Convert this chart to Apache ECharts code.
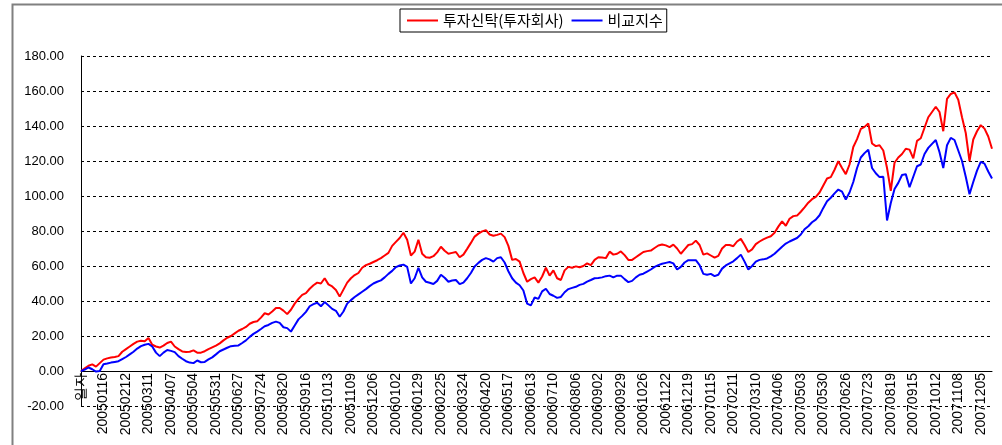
<!DOCTYPE html>
<html>
<head>
<meta charset="utf-8">
<script src="https://cdn.jsdelivr.net/npm/echarts@6/dist/echarts.min.js"></script>
<style>
html,body{margin:0;padding:0;background:#fff;}
#c{width:1002px;height:445px;}
</style>
</head>
<body>
<div id="c"></div>
<script>
// Tick labels of the category axis (one every 6 points)
const tickLabels = ['일자',
 '20050116','20050212','20050311','20050407','20050504','20050531','20050627','20050724','20050820','20050916','20051013','20051109','20051206',
 '20060102','20060129','20060225','20060324','20060420','20060517','20060613','20060710','20060806','20060902','20060929','20061026','20061122','20061219',
 '20070115','20070211','20070310','20070406','20070503','20070530','20070626','20070723','20070819','20070915','20071012','20071108','20071205'];
const pointsPerTick = 6;

const seriesNames = ['투자신탁(투자회사)', '비교지수'];

const fundValues = [
0,1.5,3,3.8,2.5,4.5,6.5,7.2,7.7,8,
8.5,11,12.5,14,15.5,16.8,17.3,17,18.8,15,
14,13.4,14.5,16,16.8,14,12.5,11.2,10.9,11,
11.8,10.5,10.5,11.3,12.5,13.5,14.5,15.8,17.5,19,
20,21.5,23,24,25.2,27,28,28.4,30.5,33,
32.3,34,36,36,34.5,32.5,35,38.5,41.2,43.5,
44.5,47,49,50.5,50,53,49.5,48.3,46.3,42.5,
46.5,50.5,53,54.8,56,59,60.5,61.3,62.3,63.3,
64.5,66,67.5,71.5,73.8,76,79,75,66,68.2,
75,67,65,64.7,65.6,67.8,71,68.7,67,67.5,
68,65,66.5,69.8,73.2,76.8,78.5,79.8,80.5,78,
77.3,77.8,78.5,76.5,71.5,63.5,64,62.5,56,51,
52.5,53.5,50.5,54,59,54.5,57.5,53,52,57.5,
59.5,59,59.8,59.3,60,61.5,60.5,63.5,65,64.8,
64.5,68.2,66.5,67,68.3,66.2,63.5,63.5,65,66.5,
68,68.5,68.8,70.3,71.7,72.3,71.8,70.8,72.2,70,
67,69.5,72,72.5,74.5,72,66.5,67.2,66,64.8,
65.8,70,72,72,71.3,74,75.5,72,68,69.5,
72.5,74,75.2,76.2,77,79,82.5,85.5,83,87,
88.5,88.8,91,93.5,96.2,98.2,99.5,102,106,110,
110.8,115,119.9,116,112.5,118,128,132.5,138.3,139.5,
141.5,130,128.5,129,126,116,103,119,122,124,
127,126.5,121.5,131.5,133,139,145,148,151,148,
137,155.5,158.3,159.2,155,145,136,120,132.3,137,
140.5,138.5,134,127
];

const indexValues = [
0,0.8,2,1,-0.3,0,3.9,4.3,4.8,5.2,
5.6,6.8,8,9.5,11,12.8,14.2,15,15.5,14,
10.5,8.5,10.5,12,11.5,10.8,8.5,7,5.6,4.8,
4.5,6,5,5.2,6.6,7.8,9.5,11.3,12.3,13.3,
14.2,14.4,14.6,16,17.5,19.5,21.2,22.5,24,25.6,
26.3,27.5,28.2,27.5,25,24.5,22.5,26,29.5,31.5,
33.8,37,38.2,39,37,39.4,37.5,35.5,34.4,31,
34,38.5,40.5,42.3,43.8,45.3,46.8,48.5,50,51,
51.8,53.5,55.5,57.2,59.4,60.3,60.8,59.5,50,53,
59,53.5,51,50.4,49.7,51.5,55,53.3,51,51.7,
52,49.6,50.5,53,56,59.7,61.8,63.5,64.5,63.8,
62.5,64.5,65,62,57,53,50.5,49,46,38.5,
37.5,42,41.2,45.5,47,44,43,41.8,42.3,45,
46.8,47.5,48.1,49.2,49.8,51.1,52,53,53.2,53.5,
54.2,54.5,53.5,54.5,54.5,52.5,50.8,51.5,53.5,55,
55.6,56.8,58,59.5,60.5,61.3,61.8,62.3,61.5,58,
59.5,62,63.3,63.3,63.3,60.5,55.5,55,55.5,54.2,
55,58.5,60.3,61.5,62.7,64.5,66.5,62.5,58,60,
62.5,63.5,63.8,64.3,65.5,67,69,71,72.8,74,
75,76,78,81,82.7,85,86.5,89,93.2,97,
99,101.5,103.7,102.5,98,102,108,116,122,124.5,
126.4,116,113,110.8,111,86,96,104,107.5,112,
112.5,105,111,117,118,124,127.5,129.8,132,125,
116,129,133.2,132,126,120,111,101,108,114.5,
119.5,118.5,114,110
];

// build category list from the tick labels (intermediate points get hidden names)
const categories = [];
tickLabels.forEach(t => {
  for (let j = 0; j < pointsPerTick; j++) categories.push(j === 0 ? t : t + '#' + j);
});
categories.length = fundValues.length;

const chart = echarts.init(document.getElementById('c'), null, {renderer: 'canvas'});
chart.setOption({
  backgroundColor: '#fff',
  animation: false,
  graphic: [{
    type: 'rect', left: 10, top: 2, silent: true, z: -1,
    shape: {width: 1100, height: 500},
    style: {fill: 'none', stroke: '#808080', lineWidth: 2}
  }],
  legend: {
    left: 400, top: 9,
    padding: [4, 4, 4, 7],
    borderColor: '#000', borderWidth: 1,
    itemWidth: 31, itemHeight: 2, itemGap: 8,
    textStyle: {fontFamily: 'Noto Sans CJK KR', fontSize: 15, color: '#000'},
    data: [{name: seriesNames[0], icon: 'rect'}, {name: seriesNames[1], icon: 'rect'}]
  },
  grid: {left: 81, right: 10, top: 56, bottom: 39, containLabel: false, outerBoundsMode: 'none'},
  xAxis: {
    type: 'category',
    position: 'bottom',
    offset: -35,
    data: categories,
    boundaryGap: false,
    axisLine: {onZero: false, lineStyle: {color: '#000', width: 1}},
    axisTick: {show: false},
    axisLabel: {
      interval: pointsPerTick - 1,
      rotate: 90,
      margin: 2,
      fontFamily: 'Liberation Sans',
      fontSize: 14,
      color: '#000',
      formatter: v => v.indexOf('#') >= 0 ? '' : v
    },
    splitLine: {show: false}
  },
  yAxis: {
    type: 'value',
    min: -20, max: 180, interval: 20,
    axisLine: {show: true, lineStyle: {color: '#000', width: 1}},
    axisTick: {show: false},
    axisLabel: {
      margin: 17,
      fontFamily: 'Liberation Sans',
      fontSize: 13,
      color: '#000',
      formatter: v => v.toFixed(2)
    },
    splitLine: {show: true, lineStyle: {color: '#000', type: [3, 3], width: 1}}
  },
  series: [
    {name: seriesNames[0], type: 'line', data: fundValues, showSymbol: false, symbol: 'none',
     lineStyle: {color: '#FF0000', width: 2}, itemStyle: {color: '#FF0000'}},
    {name: seriesNames[1], type: 'line', data: indexValues, showSymbol: false, symbol: 'none',
     lineStyle: {color: '#0000FF', width: 2}, itemStyle: {color: '#0000FF'}, z: 3}
  ]
});
</script>
</body>
</html>
